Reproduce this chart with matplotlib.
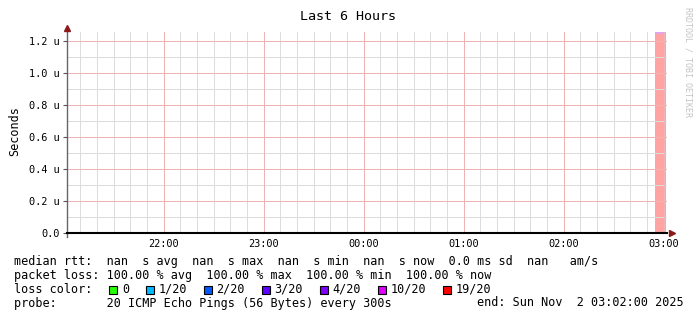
import matplotlib
matplotlib.use('Agg')
import matplotlib.pyplot as plt
import matplotlib.dates as mdates
from matplotlib.patches import Rectangle
from datetime import datetime, timedelta

# chart data
t_start = datetime(2025, 11, 1, 21, 2)
t_end = datetime(2025, 11, 2, 3, 2)
y_max = 1.256e-6
y_ticks = [0.0, 0.2e-6, 0.4e-6, 0.6e-6, 0.8e-6, 1.0e-6, 1.2e-6]
y_labels = ['0.0', '0.2 u', '0.4 u', '0.6 u', '0.8 u', '1.0 u', '1.2 u']
y_minor = [0.1e-6, 0.3e-6, 0.5e-6, 0.7e-6, 0.9e-6, 1.1e-6]

# loss shading near the end
loss_start = [datetime(2025, 11, 2, 2, 54, 48)]
loss_end = [datetime(2025, 11, 2, 3, 1, 24)]
loss_band_bottom = 1.243e-6

loss_names = ['0', '1/20', '2/20', '3/20', '4/20', '10/20', '19/20']
loss_colors = ['#26ff00', '#00b8ff', '#0059ff', '#5e00ff', '#7e00ff', '#dd00ff', '#ff0000']

line_rtt = 'median rtt:  nan  s avg  nan  s max  nan  s min  nan  s now  0.0 ms sd  nan   am/s'
line_loss = 'packet loss: 100.00 % avg  100.00 % max  100.00 % min  100.00 % now'
line_probe = 'probe:       20 ICMP Echo Pings (56 Bytes) every 300s'
line_end = 'end: Sun Nov  2 03:02:00 2025'

W, H = 697, 321
plt.rcParams['font.family'] = 'DejaVu Sans Mono'

fig = plt.figure(figsize=(W / 100, H / 100), dpi=100)
fig.patch.set_facecolor('white')

# plot area in pixels: x 67..667, y 32..233
ax = fig.add_axes([67 / W, (H - 233) / H, 600 / W, 201 / H])
ax.set_facecolor('white')

# loss bar
for s, e in zip(loss_start, loss_end):
    w = mdates.date2num(e) - mdates.date2num(s)
    ax.bar(mdates.date2num(s), y_max, width=w, align='edge', color='#ffa3a3', zorder=1)
    ax.bar(mdates.date2num(s), y_max - loss_band_bottom, width=w, bottom=loss_band_bottom,
           align='edge', color='#dfa6ef', zorder=1)

ax.set_xlim(mdates.date2num(t_start), mdates.date2num(t_end))
ax.set_ylim(0, y_max)

ax.xaxis.set_major_locator(mdates.HourLocator())
ax.xaxis.set_major_formatter(mdates.DateFormatter('%H:%M'))
ax.set_yticks(y_ticks)
ax.set_yticklabels(y_labels)

ax.tick_params(axis='x', which='both', length=0, pad=4, labelsize=7.4, colors='black')
ax.tick_params(axis='y', which='major', length=3, width=0.8, pad=2.5, labelsize=7.4,
               color='#555555', labelcolor='black', direction='out')
ax.grid(False)

# grid lines: minor grey every 10 minutes / 0.1 u, major red every hour / 0.2 u
glw = 0.72  # one pixel
t = t_start.replace(minute=10)
while t < t_end:
    if t.minute != 0:
        ax.axvline(mdates.date2num(t), color='#dcdcdc', lw=glw, zorder=2, antialiased=False)
    t += timedelta(minutes=10)
for v in y_minor:
    ax.axhline(v, color='#dcdcdc', lw=glw, zorder=2, antialiased=False)
for v in ax.get_xticks():
    ax.axvline(v, color='#eeb4b4', lw=glw, zorder=3, antialiased=False)
for v in y_ticks[1:]:
    ax.axhline(v, color='#eeb4b4', lw=glw, zorder=3, antialiased=False)

for sp in ['top', 'right']:
    ax.spines[sp].set_visible(False)
ax.spines['left'].set_color('#666666')
ax.spines['left'].set_linewidth(1.0)
ax.spines['left'].set_bounds(-0.02 * y_max, y_max * 1.02)
ax.spines['bottom'].set_color('black')
ax.spines['bottom'].set_linewidth(1.5)
ax.spines['left'].set_zorder(5)
ax.spines['bottom'].set_zorder(5)

# axis arrows
ax.plot([0], [1.02], marker='^', ms=4, color='#8b1a1a', transform=ax.transAxes, clip_on=False, zorder=6)
ax.plot([1.009], [0], marker='>', ms=4, color='#8b1a1a', transform=ax.transAxes, clip_on=False, zorder=6)

# title, axis label, watermark
fig.text(0.5, 1 - 16 / H, 'Last 6 Hours', ha='center', va='center', fontsize=9.6)
fig.text(15 / W, 1 - 131 / H, 'Seconds', rotation=90, ha='center', va='center', fontsize=8.5)
fig.text(688 / W, 1 - 7 / H, 'RRDTOOL / TOBI OETIKER', rotation=270, ha='center', va='top',
         fontsize=6, color='#c4c4c4')

# legend lines
x0 = 14.5 / W
fs = 8.5
fig.text(x0, 1 - 262 / H, line_rtt, ha='left', va='center', fontsize=fs)
fig.text(x0, 1 - 275.5 / H, line_loss, ha='left', va='center', fontsize=fs)
fig.text(x0, 1 - 289.5 / H, 'loss color:', ha='left', va='center', fontsize=fs)
fig.text(x0, 1 - 303 / H, line_probe, ha='left', va='center', fontsize=fs)
fig.text(477 / W, 1 - 303 / H, line_end, ha='left', va='center', fontsize=fs)

bx = 109.3
for name, col in zip(loss_names, loss_colors):
    fig.add_artist(Rectangle((bx / W, 1 - 293.5 / H), 8 / W, 8 / H, transform=fig.transFigure,
                             facecolor=col, edgecolor='black', lw=0.8))
    fig.text((bx + 12.5) / W, 1 - 289.5 / H, name, ha='left', va='center', fontsize=fs)
    bx += 14 + len(name) * 7.14 + 15.5

fig.savefig('out.png', dpi=100)
